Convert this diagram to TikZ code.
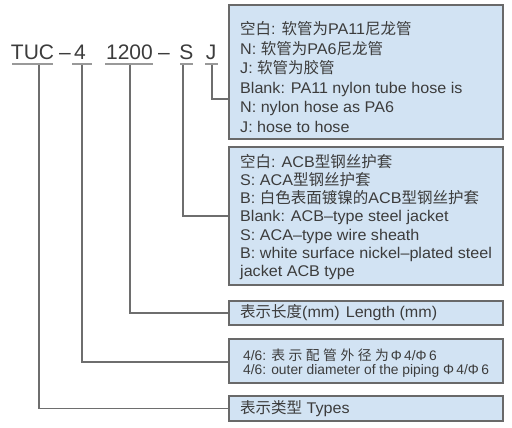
\documentclass[tikz,border=0pt]{standalone}
\usepackage{fontspec}
\setmainfont{Liberation Sans}
\newfontfamily\boxfont[FakeStretch=1.04]{Liberation Sans}
\newfontfamily\cjk{Noto Sans CJK SC}
\definecolor{boxfill}{RGB}{210,227,243}
\definecolor{boxline}{RGB}{105,105,105}
\definecolor{txt}{RGB}{60,60,60}
\definecolor{wire}{RGB}{110,110,110}
\begin{document}
\begin{tikzpicture}[x=1pt,y=-1pt,
  code/.style={font=\fontsize{21}{21}\selectfont, text=txt, inner sep=0pt, anchor=base},
  uline/.style={draw=wire!70, line width=1.2pt},
  wirestyle/.style={draw=wire, line width=1.3pt},
  box/.style={draw=boxline, fill=boxfill, line width=1.2pt, inner sep=0pt, minimum width=274pt},
  tx/.style={text=txt, inner sep=0pt, anchor=west, align=left, font=\boxfont\fontsize{15.5}{19.6}\selectfont},
  txb/.style={tx, font=\boxfont\fontsize{15.5}{18.3}\selectfont},
  txs/.style={tx, font=\rmfamily\fontsize{13.8}{14.5}\selectfont}]
\fill[white] (0,0) rectangle (512,428);
\useasboundingbox (0,0) rectangle (512,428);

% code
\node[code] (tuc) at (32.5,60) {TUC};
\node[code] (d1) at (65,60) {–};
\node[code] (four) at (80,60) {4};
\node[code] (len) at (129.5,60) {1200};
\node[code] (d2) at (164,60) {–};
\node[code] (s) at (186.5,60) {S};
\node[code] (j) at (211,60) {J};

\draw[uline] (12,64) -- (53,64);
\draw[uline] (72,64) -- (92,64);
\draw[uline] (105,64) -- (153,64);
\draw[uline] (180,64) -- (193,64);
\draw[uline] (205,64) -- (218,64);

\coordinate (ctuc) at (39,65);
\coordinate (cfour) at (82,65);
\coordinate (clen) at (130,65);
\coordinate (cs) at (183,65);
\coordinate (cj) at (212,65);

% boxes
\node[box, minimum height=134pt] (b1) at (366,72) {};
\node[box, minimum height=138pt] (b2) at (366,216) {};
\node[box, minimum height=24pt] (b3) at (366,313) {};
\node[box, minimum height=44pt] (b4) at (366,361) {};
\node[box, minimum height=25pt] (b5) at (366,408.5) {};

% connectors
\draw[wirestyle] (cj) |- ([yshift=-27pt]b1.west);
\draw[wirestyle] (cs) |- (b2.west);
\draw[wirestyle] (clen) |- (b3.west);
\draw[wirestyle] (cfour) |- ([yshift=-1pt]b4.west);
\draw[wirestyle] (ctuc) |- (b5.west);

% texts
\node[tx] (t1) at (240,77) {{\cjk 空白}: {\cjk 软管为}PA11{\cjk 尼龙管}\\
N: {\cjk 软管为}PA6{\cjk 尼龙管}\\
J: {\cjk 软管为胶管}\\
Blank: PA11 nylon tube hose is\\
N: nylon hose as PA6\\
J: hose to hose};

\node[txb] (t2) at (240,217) {{\cjk 空白}: ACB{\cjk 型钢丝护套}\\
S: ACA{\cjk 型钢丝护套}\\
B: {\cjk 白色表面镀镍的}ACB{\cjk 型钢丝护套}\\
Blank: ACB–type steel jacket\\
S: ACA–type wire sheath\\
B: white surface nickel–plated steel\\
jacket ACB type};

\node[tx] (t3) at (240,313) {{\cjk 表示长度}(mm)\hspace{6pt}Length (mm)};

\node[txs] (t4) at (243,363) {4/6: {\cjk 表\hspace{3.5pt}示\hspace{3.5pt}配\hspace{3.5pt}管\hspace{3.5pt}外\hspace{3.5pt}径\hspace{3.5pt}为}\hspace{2pt}Φ\,4/Φ\,6\\
4/6: outer diameter of the piping Φ\,4/Φ\,6};

\node[tx] (t5) at (240,408.5) {{\cjk 表示类型} Types};
\end{tikzpicture}
\end{document}
